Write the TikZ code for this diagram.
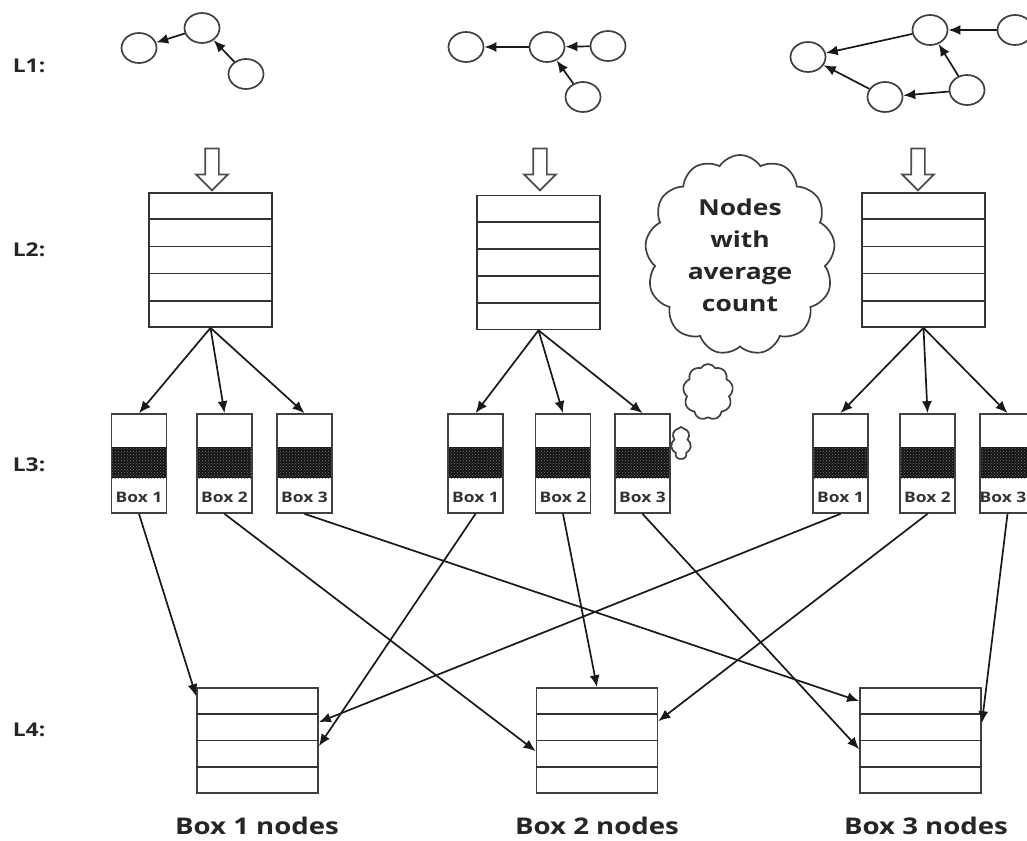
\documentclass[tikz,border=0pt]{standalone}
\usepackage{fontspec}
\setsansfont[FakeStretch=1.2]{Open Sans}
\usetikzlibrary{arrows.meta,calc,shapes.geometric,shapes.symbols,shapes.arrows,patterns}

\tikzset{every picture/.style={line width=1.7pt}}
\tikzset{
  lvl/.style={font=\sffamily\bfseries\fontsize{19}{22}\selectfont, text=black!85, inner sep=0pt},
  nd/.style={draw=black!75, ellipse, minimum width=35pt, minimum height=30pt, inner sep=0pt},
  ln/.style={-{Latex[length=12pt,width=10pt]}, black!90},
  hollow/.style={draw=black!70, single arrow, shape border rotate=270, inner sep=6pt,
    minimum height=42pt, single arrow head extend=9pt},
  tbl/.style={draw=black!80, rectangle, minimum width=123pt, minimum height=134pt, inner sep=0pt},
  lst/.style={draw=black!75, rectangle, minimum width=121pt, minimum height=105pt, inner sep=0pt},
  row/.style={black!80},
  bx/.style={draw=black!75, rectangle, minimum width=55pt, minimum height=99pt, inner sep=0pt},
  blbl/.style={font=\sffamily\bfseries\fontsize{14.5}{16}\selectfont, text=black!80, inner sep=0pt},
  cld/.style={draw=black!75, cloud, inner sep=0pt},
  foot/.style={font=\sffamily\bfseries\fontsize{23}{26}\selectfont, text=black!85, inner sep=0pt}
}

\begin{document}
\begin{tikzpicture}[x=1pt,y=1pt,yscale=-1]
\useasboundingbox (0,0) rectangle (1027,840);

% level labels
\node[lvl, anchor=west] (l1) at (12,66) {L1:};
\node[lvl, anchor=west] (l2) at (12,250) {L2:};
\node[lvl, anchor=west] (l3) at (12,465) {L3:};
\node[lvl, anchor=west] (l4) at (12,730) {L4:};

% L1 graphs
\node[nd] (a1) at (139,48) {};
\node[nd] (a2) at (202,28) {};
\node[nd] (a3) at (246,74) {};
\draw[ln] (a2) -- (a1);
\draw[ln] (a3) -- (a2);

\node[nd] (b1) at (466,47) {};
\node[nd] (b2) at (547,47) {};
\node[nd] (b3) at (608,46) {};
\node[nd] (b4) at (583,97) {};
\draw[ln] (b2) -- (b1);
\draw[ln] (b3) -- (b2);
\draw[ln] (b4) -- (b2);

\node[nd] (c1) at (808,57) {};
\node[nd] (c2) at (930,30) {};
\node[nd] (c3) at (1015,30) {};
\node[nd] (c4) at (885,97) {};
\node[nd] (c5) at (967,90) {};
\draw[ln] (c2) -- (c1);
\draw[ln] (c3) -- (c2);
\draw[ln] (c5) -- (c2);
\draw[ln] (c5) -- (c4);
\draw[ln] (c4) -- (c1);

% hollow arrows
\node[hollow] (h1) at (212,166) {};
\node[hollow] (h2) at (540,166) {};
\node[hollow] (h3) at (918,166) {};

% L2 tables
\node[tbl] (t1) at (210.5,260) {};
\node[tbl] (t2) at (538.5,262.5) {};
\node[tbl] (t3) at (923.5,260) {};
\foreach \t in {t1,t2,t3}
  \foreach \i in {1,...,4}
    \draw[row] ($(\t.north west)!\i/5!(\t.south west)$) -- ($(\t.north east)!\i/5!(\t.south east)$);

% thought clouds
\node[cld, cloud puffs=13, cloud puff arc=115, minimum width=190pt, minimum height=200pt,
  align=center, font=\sffamily\bfseries\fontsize{22}{32}\selectfont, text=black!85] (cl) at (740,255)
  {Nodes\\with\\average\\count};
\node[cld, cloud puffs=9, cloud puff arc=120, minimum width=50pt, minimum height=56pt] (cl2) at (708,392) {};
\node[cld, cloud puffs=7, cloud puff arc=120, minimum width=20pt, minimum height=32pt] (cl3) at (681,443) {};

% L3 boxes
\foreach \n/\x/\k/\lx in {g1b1/139/1/139, g1b2/224.5/2/224.5, g1b3/304.5/3/304.5,
                      g2b1/475.5/1/475.5, g2b2/563/2/563, g2b3/642.5/3/642.5,
                      g3b1/840.5/1/840.5, g3b2/927.5/2/927.5, g3b3/1007.5/3/1003} {
  \fill[black!92] (\x-27.5,447) rectangle (\x+27.5,478);
  \fill[pattern=crosshatch dots, pattern color=black!55] (\x-27.5,447) rectangle (\x+27.5,478);
  \node[bx, fill=none] (\n) at (\x,463.5) {};
  \node[blbl] (\n l) at (\lx,497) {Box \k};
}

% L2 -> L3
\foreach \t/\b in {t1/g1b1, t1/g1b2, t1/g1b3, t2/g2b1, t2/g2b2, t2/g2b3, t3/g3b1, t3/g3b2, t3/g3b3}
  \draw[ln] (\t.south) -- (\b.north);

% L4 lists
\node[lst] (n1) at (257.5,740.5) {};
\node[lst] (n2) at (597,740.5) {};
\node[lst] (n3) at (920.5,740.5) {};
\foreach \t in {n1,n2,n3}
  \foreach \i in {1,...,3}
    \draw[row] ($(\t.north west)!\i/4!(\t.south west)$) -- ($(\t.north east)!\i/4!(\t.south east)$);

% L3 -> L4
\draw[ln] (g1b1.south) -- ([yshift=9pt]n1.north west);
\draw[ln] (g1b2.south) -- ([yshift=64pt]n2.north west);
\draw[ln] (g1b3.south) -- ([yshift=14pt]n3.north west);
\draw[ln] (g2b1.south) -- ([yshift=59pt]n1.north east);
\draw[ln] (g2b2.south) -- (n2.north);
\draw[ln] (g2b3.south) -- ([yshift=62pt]n3.north west);
\draw[ln] (g3b1.south) -- ([yshift=35pt]n1.north east);
\draw[ln] (g3b2.south) -- ([yshift=34pt]n2.north east);
\draw[ln] (g3b3.south) -- ([yshift=36pt]n3.north east);

% captions
\node[foot] (f1) at (257,826) {Box 1 nodes};
\node[foot] (f2) at (597,826) {Box 2 nodes};
\node[foot] (f3) at (926,826) {Box 3 nodes};

\end{tikzpicture}
\end{document}
